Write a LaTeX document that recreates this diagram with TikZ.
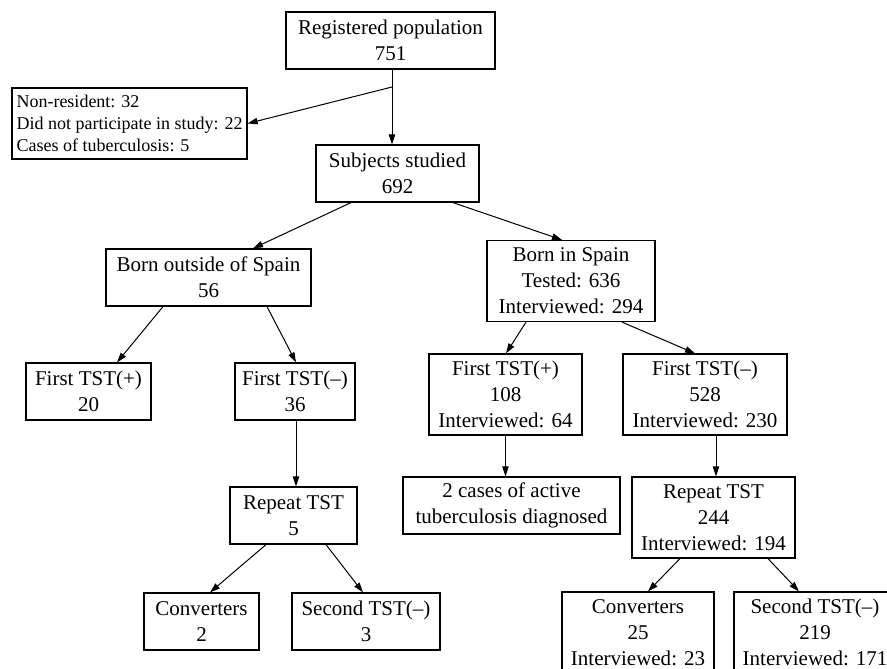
\documentclass[tikz,border=0pt]{standalone}
\usepackage{fontspec}
\setmainfont{Liberation Serif}
\usetikzlibrary{arrows.meta}

\begin{document}
\begin{tikzpicture}[x=0.5pt,y=-0.5pt,
  box/.style={draw,line width=0.6pt,align=center,inner sep=0pt,font=\fontsize{10.5}{13}\selectfont},
  two/.style={minimum height=28.5pt},
  three/.style={minimum height=40.5pt},
  arr/.style={-{Triangle[length=5pt,width=3.2pt]},line width=0.5pt}]
\useasboundingbox (0,0) rectangle (887,668);
% top of the flow
\node[box,two,minimum width=104.5pt] (reg) at (390.5,40.5) {Registered population\\751};
\node[box,minimum width=117.5pt,minimum height=35.5pt,align=left,font=\fontsize{9}{11}\selectfont] (excl) at (129.5,123.5)
  {Non-resident: 32\\Did not participate in study: 22\\Cases of tuberculosis: 5};
\node[box,two,minimum width=81.5pt] (subj) at (397.5,173.5) {Subjects studied\\692};
\coordinate (split) at (392,87);
\draw[arr] (split |- reg.south) -- (split |- subj.north);
\draw[arr] (split) -- (excl.east);
% born outside of Spain
\node[box,two,minimum width=102.5pt] (bout) at (208.5,277.5) {Born outside of Spain\\56};
\node[box,two,minimum width=62.5pt] (fpa) at (88.5,391.5) {First TST(+)\\20};
\node[box,two,minimum width=60pt] (fma) at (295,391.5) {First TST(–)\\36};
\node[box,two,minimum width=63.5pt] (repa) at (293.5,515.5) {Repeat TST\\5};
\node[box,two,minimum width=57.5pt] (conva) at (201.5,621.5) {Converters\\2};
\node[box,two,minimum width=74pt] (seca) at (366,621.5) {Second TST(–)\\3};
% born in Spain
\node[box,three,minimum width=84pt] (bin) at (571,281) {Born in Spain\\Tested: 636\\Interviewed: 294};
\node[box,three,minimum width=76.5pt] (fpb) at (505.5,394.5) {First TST(+)\\108\\Interviewed: 64};
\node[box,three,minimum width=82pt] (fmb) at (705,394.5) {First TST(–)\\528\\Interviewed: 230};
\node[box,two,minimum width=108.5pt] (tb) at (511.5,505.5) {2 cases of active\\tuberculosis diagnosed};
\node[box,three,minimum width=81.5pt] (repb) at (713.5,517.5) {Repeat TST\\244\\Interviewed: 194};
\node[box,three,minimum width=76pt] (convb) at (638,632.5) {Converters\\25\\Interviewed: 23};
\node[box,three,minimum width=81pt] (secb) at (815,632.5) {Second TST(–)\\219\\Interviewed: 171};
% arrows
\draw[arr] ([xshift=-23.25pt]subj.south) -- ([xshift=22.25pt]bout.north);
\draw[arr] ([xshift=27.75pt]subj.south) -- ([xshift=-4.5pt]bin.north);
\draw[arr] ([xshift=-22.75pt]bout.south) -- ([xshift=14.25pt]fpa.north);
\draw[arr] ([xshift=29.25pt]bout.south) -- ([xshift=0.5pt]fma.north);
\draw[arr] ([xshift=0.5pt]fma.south) -- ([xshift=0.5pt]fma.south |- repa.north);
\draw[arr] ([xshift=-13.75pt]repa.south) -- ([xshift=4.25pt]conva.north);
\draw[arr] ([xshift=16.25pt]repa.south) -- ([xshift=-1.5pt]seca.north);
\draw[arr] ([xshift=-22.5pt]bin.south) -- ([xshift=0.25pt]fpb.north);
\draw[arr] ([xshift=25.5pt]bin.south) -- ([xshift=-5pt]fmb.north);
\draw[arr] (fpb.south) -- (fpb.south |- tb.north);
\draw[arr] ([xshift=5.5pt]fmb.south) -- ([xshift=5.5pt]fmb.south |- repb.north);
\draw[arr] ([xshift=-16.75pt]repb.south) -- ([xshift=5pt]convb.north);
\draw[arr] ([xshift=27.25pt]repb.south) -- ([xshift=-8pt]secb.north);
\end{tikzpicture}
\end{document}
